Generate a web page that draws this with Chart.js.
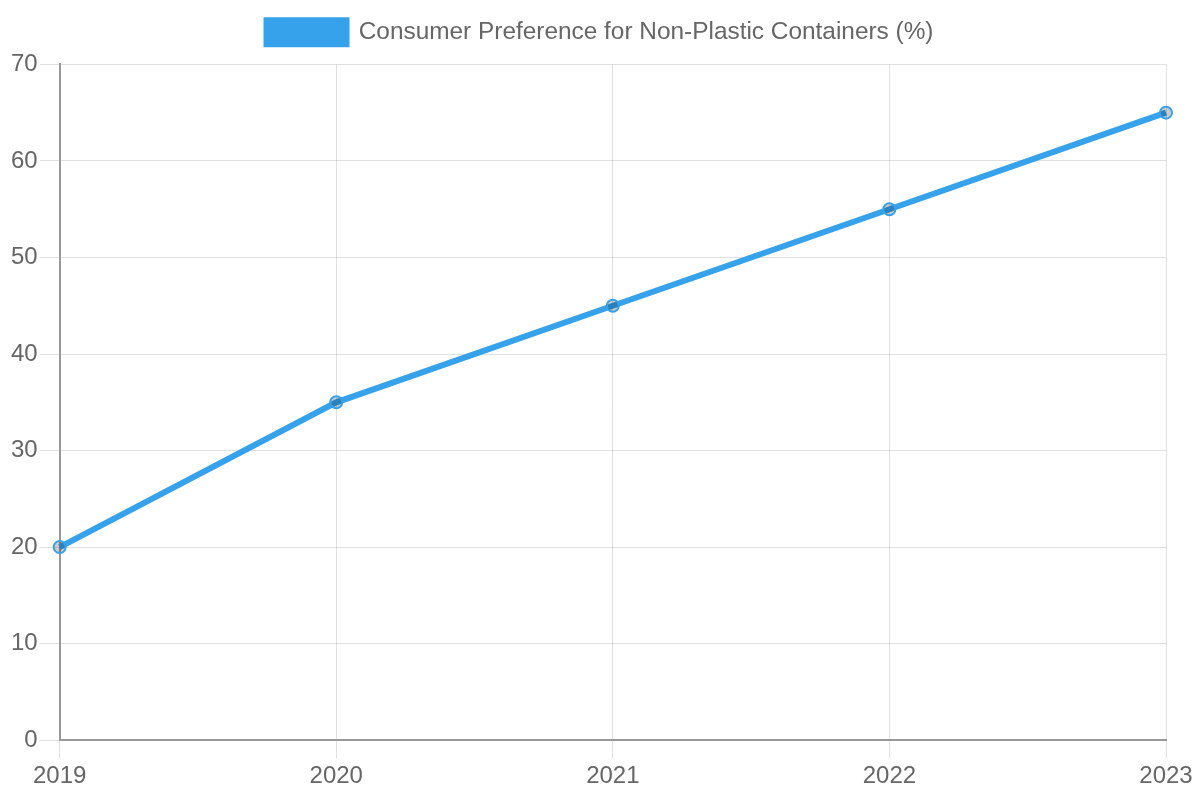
<!DOCTYPE html>
<html>
<head>
<meta charset="utf-8">
<script src="https://cdn.jsdelivr.net/npm/chart.js@4/dist/chart.umd.min.js"></script>
<style>
html,body{margin:0;padding:0;background:#fff;}
#wrap{width:1200px;height:800px;}
</style>
</head>
<body>
<div id="wrap"><canvas id="c" width="1200" height="800"></canvas></div>
<script>
const years = ['2019', '2020', '2021', '2022', '2023'];
const preference = [20, 35, 45, 55, 65];
const seriesLabel = 'Consumer Preference for Non-Plastic Containers (%)';
const yTicks = [0, 10, 20, 30, 40, 50, 60, 70];

Chart.defaults.font.family = '"Liberation Sans", Arial, sans-serif';
Chart.defaults.font.size = 24;
Chart.defaults.color = '#666';

const legendMargin = {
  id: 'legendMargin',
  beforeInit(chart) {
    const origFit = chart.legend.fit;
    chart.legend.fit = function () {
      origFit.bind(chart.legend)();
      this.height += 10;
    };
  },
  afterLayout(chart) {
    const lg = chart.legend;
    lg.left = 0;
    lg.right = chart.width;
    lg.width = chart.width;
  }
};

new Chart(document.getElementById('c'), {
  type: 'line',
  data: {
    labels: years,
    datasets: [{
      label: seriesLabel,
      data: preference,
      borderColor: '#36A2EB',
      backgroundColor: '#36A2EB',
      pointBackgroundColor: 'rgba(0,0,0,0.2)',
      pointBorderColor: '#36A2EB',
      pointBorderWidth: 2,
      pointRadius: 6,
      borderWidth: 6,
      fill: false,
      tension: 0
    }]
  },
  options: {
    responsive: false,
    animation: false,
    layout: { padding: { left: 9, right: 34, top: 0, bottom: 5 } },
    plugins: {
      legend: {
        display: true,
        labels: {
          boxWidth: 80,
          boxHeight: 24,
          padding: 20,
          font: { size: 24.4 },
          color: '#666'
        }
      },
      tooltip: { enabled: false }
    },
    scales: {
      x: {
        grid: { color: 'rgba(0,0,0,0.12)', tickLength: 18 },
        border: { color: '#999', width: 2 },
        ticks: { font: { size: 24 }, color: '#666', padding: 4, maxRotation: 0 }
      },
      y: {
        min: 0,
        max: 70,
        afterBuildTicks: (axis) => { axis.ticks = yTicks.map(v => ({ value: v })); },
        grid: { color: 'rgba(0,0,0,0.12)', tickLength: 20 },
        border: { color: '#999', width: 2 },
        ticks: { font: { size: 24 }, color: '#666', padding: 2 }
      }
    }
  },
  plugins: [legendMargin]
});
</script>
</body>
</html>
